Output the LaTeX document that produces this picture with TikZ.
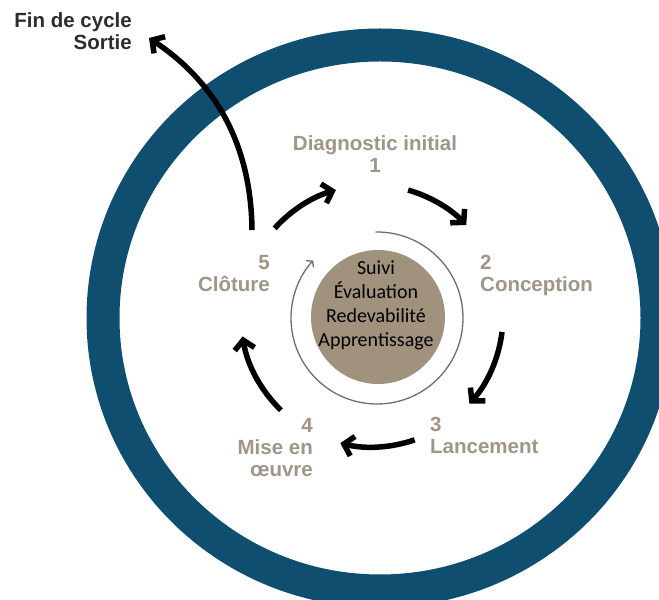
\documentclass[tikz,border=0pt]{standalone}
\usepackage{fontspec}
\newfontfamily\labfont{Liberation Sans}
\newfontfamily\carlfont{Carlito}
\usetikzlibrary{arrows.meta}
\definecolor{ringblue}{RGB}{16,78,112}
\definecolor{labtan}{RGB}{160,150,136}
\definecolor{discbrown}{RGB}{161,146,125}
\definecolor{darktext}{RGB}{45,45,45}
\definecolor{thingray}{RGB}{110,110,110}
\begin{document}
\begin{tikzpicture}[x=1pt,y=1pt,
  lab/.style={font=\labfont\bfseries\fontsize{20.5}{22}\selectfont, text=labtan, inner sep=0pt},
  exitlab/.style={lab, text=darktext},
  ctext/.style={font=\carlfont\fontsize{20}{24}\selectfont, text=black, align=center, inner sep=0pt},
  disc/.style={circle, fill=discbrown, minimum size=134pt, inner sep=0pt},
  cyc/.style={line width=5.5pt, black, -{Straight Barb[length=9pt,width=20pt]}},
  thinarc/.style={line width=1.3pt, thingray, -{Straight Barb[length=4pt,width=10pt]}}]
\useasboundingbox (0,0) rectangle (659,600);
\clip (0,0) rectangle (659,600);
\fill[white] (0,0) rectangle (659,600);
% outer ring
\draw[ringblue, line width=33pt] (380,282) ellipse [x radius=277, y radius=273];
% central disc
\node[disc] (disc) at (378,283) {};
\node[ctext] (ctext) at (376,295) {Suivi\\Évaluation\\Redevabilité\\Apprentissage};
% thin circular arrow
\coordinate (tc) at (377,282);
\coordinate (t0) at ([shift={(91:86)}]tc);
\draw[thinarc] (t0) arc[start angle=91, end angle=-222, radius=86];
% cycle arrows
\coordinate (cc) at (372,284);
\coordinate (a1) at ([shift={(138:131)}]cc);
\coordinate (a2) at ([shift={(74:131)}]cc);
\coordinate (a3) at ([shift={(-7:131)}]cc);
\coordinate (a4) at ([shift={(-71:131)}]cc);
\coordinate (a5) at ([shift={(226:131)}]cc);
\draw[cyc] (a1) arc[start angle=138, end angle=106, radius=131];
\draw[cyc] (a2) arc[start angle=74, end angle=44, radius=131];
\draw[cyc] (a3) arc[start angle=-7, end angle=-42, radius=131];
\draw[cyc] (a4) arc[start angle=-71, end angle=-104, radius=131];
\draw[cyc] (a5) arc[start angle=226, end angle=189, radius=131];
% labels
\node[lab, align=center, anchor=north] (diag) at (375,465) {Diagnostic initial\\1};
\node[lab, align=left, anchor=north west] (conc) at (480,345) {2\\Conception};
\node[lab, align=left, anchor=north west] (lanc) at (430,183) {3\\Lancement};
\node[lab, align=right, anchor=north east] (mise) at (313,182) {4\\Mise en\\œuvre};
\node[lab, align=right, anchor=north east] (clot) at (270,345) {5\\Clôture};
\node[exitlab, align=right, anchor=north east] (fin) at (132,588) {Fin de cycle\\Sortie};
% exit arrow
\coordinate (ex0) at (252,370);
\coordinate (ex1) at (149,562);
\draw[cyc] (ex0) .. controls (251,460) and (212,520) .. (ex1);
\end{tikzpicture}
\end{document}
